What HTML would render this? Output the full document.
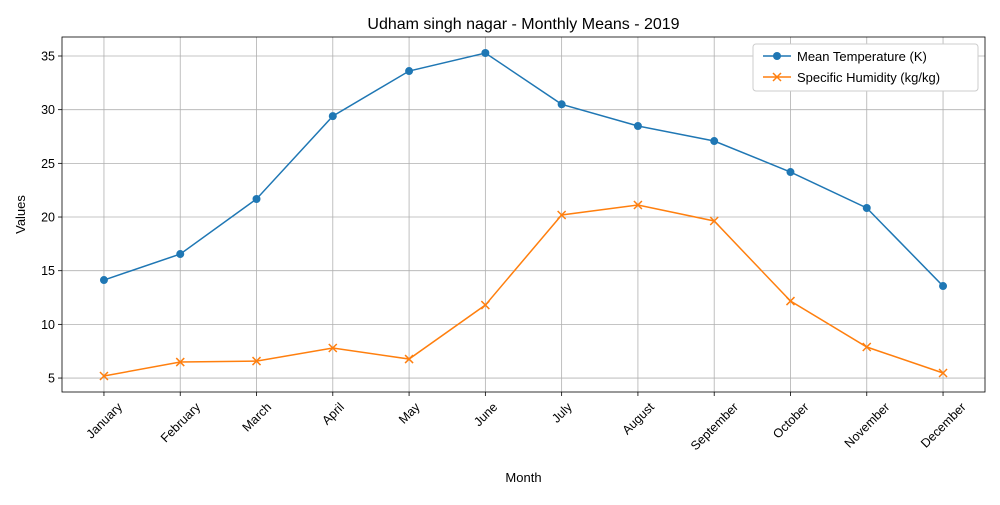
<!DOCTYPE html>
<html><head><meta charset="utf-8"><style>
body{margin:0;background:#fff;font-family:"Liberation Sans","DejaVu Sans",sans-serif;}
</style></head><body>
<svg id="chart" width="1000" height="500" xmlns="http://www.w3.org/2000/svg"></svg>
<script>
const months=["January","February","March","April","May","June","July","August","September","October","November","December"];
const tempValues=[14.13,16.55,21.68,29.4,33.6,35.28,30.5,28.48,27.08,24.19,20.84,13.57];
const humValues=[5.19,6.49,6.58,7.8,6.77,11.8,20.19,21.12,19.63,12.17,7.89,5.47];
const yTicks=[5,10,15,20,25,30,35];

const L=62,R=985,T=37,B=392;
const xMin=-0.55,xMax=11.55,yMin=3.70,yMax=36.77;
const xs=i=>L+(i-xMin)/(xMax-xMin)*(R-L);
const ys=v=>B-(v-yMin)/(yMax-yMin)*(B-T);
const svg=document.getElementById('chart');
const NS="http://www.w3.org/2000/svg";
function mk(tag,attrs,parent){const e=document.createElementNS(NS,tag);for(const k in attrs)e.setAttribute(k,attrs[k]);(parent||svg).appendChild(e);return e;}

const grid=mk('g',{});


months.forEach((m,i)=>{
  const x=xs(i);
  mk('line',{x1:x,x2:x,y1:T,y2:B,stroke:'#b0b0b0','stroke-width':0.8},grid);
  mk('line',{x1:x,x2:x,y1:B,y2:B+4,stroke:'#000','stroke-width':0.8});
  const t=mk('text',{x:0,y:4.5,'font-size':12.5,'text-anchor':'middle'});
  t.textContent=m;
  
  
  const w=t.getComputedTextLength();
  const cy=B+8+(w+13)*0.707/2;
  t.setAttribute('transform',`translate(${x},${cy}) rotate(-45)`);
});
yTicks.forEach(v=>{
  const y=ys(v);
  mk('line',{x1:L,x2:R,y1:y,y2:y,stroke:'#b0b0b0','stroke-width':0.8},grid);
  mk('line',{x1:L-4,x2:L,y1:y,y2:y,stroke:'#000','stroke-width':0.8});
  const t=mk('text',{x:L-7,y:y+4.5,'font-size':12.5,'text-anchor':'end'});
  t.textContent=v;
  
  
});

function series(vals,color,marker,name){
  const g=mk('g',{});
  
  
  mk('polyline',{points:vals.map((v,i)=>xs(i)+','+ys(v)).join(' '),fill:'none',stroke:color,'stroke-width':1.5},g);
  vals.forEach((v,i)=>{
    const x=xs(i),y=ys(v);
    if(marker==='o'){const c=mk('circle',{cx:x,cy:y,r:4,fill:color},g);}
    else{const p=mk('path',{d:`M${x-4},${y-4}L${x+4},${y+4}M${x-4},${y+4}L${x+4},${y-4}`,stroke:color,'stroke-width':1.5},g);}
  });
}
series(tempValues,'#1f77b4','o','temperature-series');
series(humValues,'#ff7f0e','x','humidity-series');

mk('rect',{x:L,y:T,width:R-L,height:B-T,fill:'none',stroke:'#000','stroke-width':0.8});

let t=mk('text',{x:(L+R)/2,y:29,'font-size':16,'text-anchor':'middle'});t.textContent='Udham singh nagar - Monthly Means - 2019';


t=mk('text',{x:(L+R)/2,y:482,'font-size':13,'text-anchor':'middle'});t.textContent='Month';


t=mk('text',{x:0,y:0,'font-size':13,'text-anchor':'middle',transform:`translate(25,${(T+B)/2}) rotate(-90)`});t.textContent='Values';



const lg=mk('g',{});


mk('rect',{x:753,y:44,width:225,height:47,rx:3,fill:'#fff',stroke:'#ccc'},lg);
mk('line',{x1:763,x2:791,y1:56,y2:56,stroke:'#1f77b4','stroke-width':1.5},lg);
mk('circle',{cx:777,cy:56,r:4,fill:'#1f77b4'},lg);
t=mk('text',{x:797,y:61,'font-size':13},lg);t.textContent='Mean Temperature (K)';


mk('line',{x1:763,x2:791,y1:77,y2:77,stroke:'#ff7f0e','stroke-width':1.5},lg);
mk('path',{d:'M773,73L781,81M773,81L781,73',stroke:'#ff7f0e','stroke-width':1.5},lg);
t=mk('text',{x:797,y:82,'font-size':13},lg);t.textContent='Specific Humidity (kg/kg)';


</script>
</body></html>
